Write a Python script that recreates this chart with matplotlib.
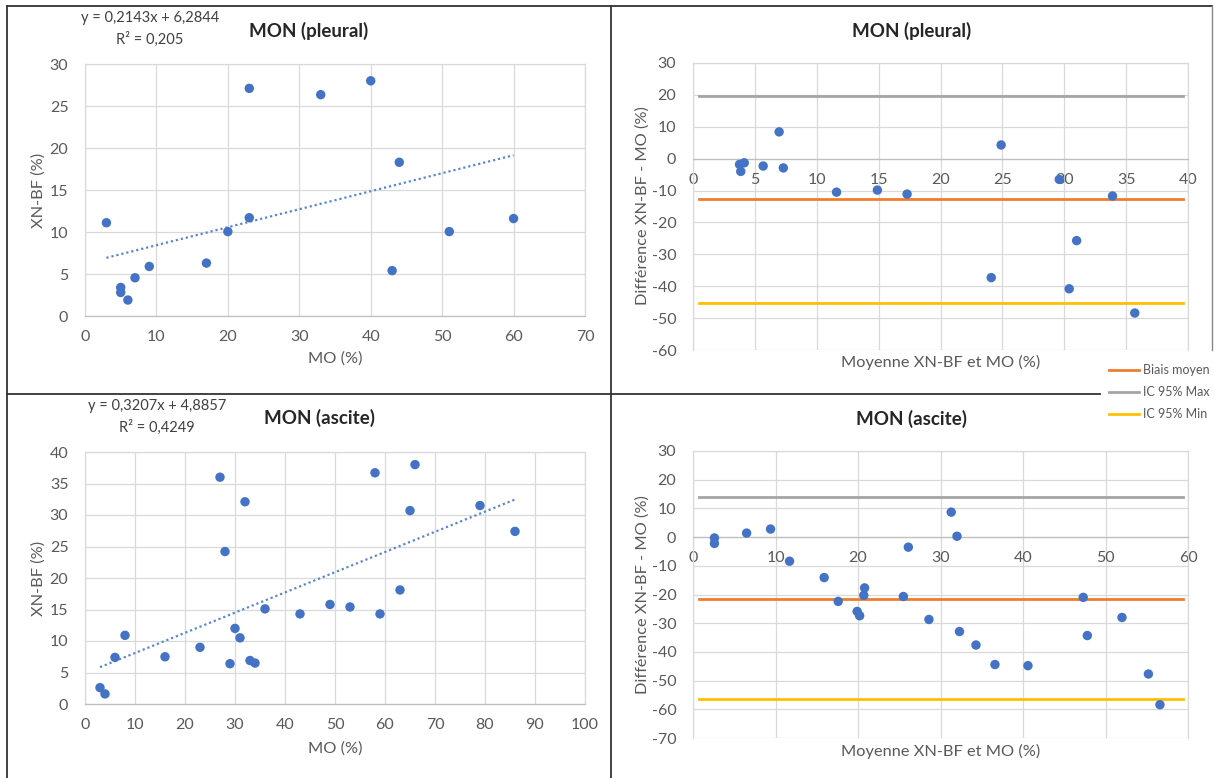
import matplotlib
matplotlib.use('Agg')
import matplotlib.pyplot as plt
from matplotlib.lines import Line2D
import numpy as np

plt.rcParams['font.family'] = ['Lato', 'DejaVu Sans']
plt.rcParams['axes.unicode_minus'] = False

W, H = 1214, 778

# ---------------- data ----------------
# MON (pleural) : MO vs XN-BF
pl_mo = [3, 5, 5, 6, 7, 9, 17, 20, 23, 23, 33, 40, 43, 44, 51, 60]
pl_xn = [11.1, 3.4, 2.8, 1.9, 4.55, 5.9, 6.3, 10.05, 27.1, 11.7, 26.35, 28.0, 5.4, 18.3, 10.05, 11.6]
pl_slope, pl_intercept = 0.2143, 6.2844
pl_trend_x = [3, 60]
pl_eq = "y = 0,2143x + 6,2844"
pl_r2 = "R² = 0,205"

# MON (pleural) : Bland-Altman
pl_ba_mean = [3.76, 3.86, 4.14, 5.67, 6.96, 7.3, 11.6, 14.9, 17.3, 24.1, 24.9, 29.6, 30.4, 31.0, 33.9, 35.7]
pl_ba_diff = [-1.8, -4.0, -1.3, -2.3, 8.4, -2.9, -10.5, -9.85, -11.1, -37.3, 4.3, -6.5, -40.8, -25.7, -11.7, -48.4]
pl_bias, pl_ic_max, pl_ic_min = -12.8, 19.8, -45.3
pl_line_x = [0.5, 39.6]

# MON (ascite) : MO vs XN-BF
as_mo = [3, 4, 6, 8, 16, 23, 27, 28, 29, 30, 31, 32, 33, 34, 36, 43, 49, 53, 58, 59, 63, 65, 66, 79, 86]
as_xn = [2.6, 1.6, 7.4, 10.9, 7.5, 9.0, 36.0, 24.2, 6.4, 12.0, 10.5, 32.1, 6.9, 6.5, 15.1, 14.3,
         15.8, 15.4, 36.7, 14.3, 18.1, 30.7, 38.0, 31.5, 27.4]
as_slope, as_intercept = 0.3207, 4.8857
as_trend_x = [3, 86]
as_eq = "y = 0,3207x + 4,8857"
as_r2 = "R² = 0,4249"

# MON (ascite) : Bland-Altman
as_ba_mean = [2.6, 2.6, 6.5, 9.4, 11.7, 15.9, 31.3, 26.1, 17.6, 20.8, 20.7, 32.0, 19.9, 20.2, 25.5,
              28.6, 32.3, 34.3, 47.3, 36.6, 40.6, 47.8, 52.0, 55.2, 56.6]
as_ba_diff = [-0.3, -2.2, 1.4, 2.8, -8.4, -14.1, 8.7, -3.5, -22.4, -17.7, -20.3, 0.3, -25.9, -27.4,
              -20.7, -28.7, -32.9, -37.6, -21.0, -44.4, -44.8, -34.3, -28.0, -47.7, -58.4]
as_bias, as_ic_max, as_ic_min = -21.4, 14.1, -56.4
as_line_x = [0.7, 59.4]

legend_labels = ["Biais moyen", "IC 95% Max", "IC 95% Min"]

# ---------------- styles ----------------
BLUE = '#4472C4'
ORANGE = '#ED7D31'
GREY = '#A5A5A5'
GOLD = '#FFC000'
GRID = '#D9D9D9'
TXT = '#595959'

fig = plt.figure(figsize=(W / 100, H / 100), dpi=100)
fig.patch.set_facecolor('white')


def ax_at(l, t, r, b):
    return fig.add_axes([l / W, 1 - b / H, (r - l) / W, (b - t) / H])


def ftext(x, y, s, **kw):
    fig.text(x / W, 1 - y / H, s, **kw)


def style(ax, xlim, xt, ylim, yt, ba=False):
    ax.set_xlim(*xlim)
    ax.set_ylim(*ylim)
    ax.set_xticks(xt)
    ax.set_yticks(yt)
    ax.grid(True, color=GRID, lw=0.9)
    ax.set_axisbelow(True)
    for s in ['top', 'left', 'right']:
        ax.spines[s].set_color(GRID)
        ax.spines[s].set_linewidth(0.9)
    ax.spines['bottom'].set_color('#BFBFBF')
    ax.spines['bottom'].set_linewidth(0.9)
    if ba:
        ax.spines['bottom'].set_position(('data', 0))
    ax.tick_params(length=0, labelsize=11.5, colors=TXT)
    ax.tick_params(axis='x', pad=10)
    ax.tick_params(axis='y', pad=12)
    ax.set_xticklabels([str(v) for v in xt])
    ax.set_yticklabels([str(v) for v in yt])


def scatter_panel(ax, mo, xn, slope, intercept, tx):
    tx = np.array(tx, dtype=float)
    ax.plot(tx, slope * tx + intercept, color='#5B86CF', lw=1.6, ls=(0, (1, 1.3)), zorder=2)
    ax.scatter(mo, xn, s=46, color=BLUE, zorder=3, edgecolors='none')


def ba_panel(ax, m, d, bias, icmax, icmin, lx):
    ax.plot(lx, [bias, bias], color=ORANGE, lw=2, zorder=2)
    ax.plot(lx, [icmax, icmax], color=GREY, lw=2, zorder=2)
    ax.plot(lx, [icmin, icmin], color=GOLD, lw=2, zorder=2)
    ax.scatter(m, d, s=46, color=BLUE, zorder=3, edgecolors='none')


# Top-left
ax1 = ax_at(85, 64, 585, 316)
style(ax1, (0, 70), list(range(0, 71, 10)), (0, 30), list(range(0, 31, 5)))
scatter_panel(ax1, pl_mo, pl_xn, pl_slope, pl_intercept, pl_trend_x)

# Top-right
ax2 = ax_at(693, 63, 1188, 350)
style(ax2, (0, 40), list(range(0, 41, 5)), (-60, 30), list(range(-60, 31, 10)), ba=True)
ba_panel(ax2, pl_ba_mean, pl_ba_diff, pl_bias, pl_ic_max, pl_ic_min, pl_line_x)

# Bottom-left
ax3 = ax_at(85, 452, 585, 704)
style(ax3, (0, 100), list(range(0, 101, 10)), (0, 40), list(range(0, 41, 5)))
scatter_panel(ax3, as_mo, as_xn, as_slope, as_intercept, as_trend_x)

# Bottom-right
ax4 = ax_at(693, 451, 1188, 738)
style(ax4, (0, 60), list(range(0, 61, 10)), (-70, 30), list(range(-70, 31, 10)), ba=True)
ba_panel(ax4, as_ba_mean, as_ba_diff, as_bias, as_ic_max, as_ic_min, as_line_x)

# ---------------- texts ----------------
title_kw = dict(ha='center', va='center', fontsize=13.5, fontweight='bold', color='#262626')
ftext(309, 31, "MON (pleural)", **title_kw)
ftext(912, 31, "MON (pleural)", **title_kw)
ftext(319, 418, "MON (ascite)", **title_kw)
ftext(912, 419, "MON (ascite)", **title_kw)

lab_kw = dict(ha='center', va='center', fontsize=11.8, color=TXT)
ftext(335, 359, "MO (%)", **lab_kw)
ftext(335, 749, "MO (%)", **lab_kw)
ftext(941, 362, "Moyenne XN-BF et MO (%)", **lab_kw)
ftext(941, 751, "Moyenne XN-BF et MO (%)", **lab_kw)
ftext(39, 190, "XN-BF (%)", rotation=90, **lab_kw)
ftext(39, 578, "XN-BF (%)", rotation=90, **lab_kw)
ftext(643, 206, "Différence XN-BF - MO (%)", rotation=90, **lab_kw)
ftext(643, 595, "Différence XN-BF - MO (%)", rotation=90, **lab_kw)

eq_kw = dict(ha='center', va='center', fontsize=10.5, color='#404040')
ftext(150, 18, pl_eq, **eq_kw)
ftext(150, 39, pl_r2, **eq_kw)
ftext(157, 406, as_eq, **eq_kw)
ftext(157, 427, as_r2, **eq_kw)

# legend (shared)
leg_handles = [Line2D([0], [0], color=c, lw=2) for c in (ORANGE, GREY, GOLD)]
leg = fig.legend(leg_handles, legend_labels, loc='center left',
                 bbox_to_anchor=(1104 / W, 1 - 392 / H), frameon=False,
                 fontsize=9, handlelength=2.4, handletextpad=0.3,
                 labelspacing=0.8, borderaxespad=0)
for t in leg.get_texts():
    t.set_color(TXT)

# ---------------- frame lines ----------------
frame = fig.add_axes([0, 0, 1, 1], facecolor='none')
frame.set_xlim(0, W)
frame.set_ylim(H, 0)
frame.axis('off')
fc = '#333333'
frame.plot([7, 7], [6, 778], color=fc, lw=1.3)
frame.plot([7, 1212], [6, 6], color=fc, lw=1.3)
frame.plot([1212, 1212], [6, 350], color='#888888', lw=1.0)
frame.plot([611, 611], [6, 778], color=fc, lw=1.3)
frame.plot([7, 1100], [394, 394], color=fc, lw=1.3)

fig.savefig('out.png', dpi=100)
